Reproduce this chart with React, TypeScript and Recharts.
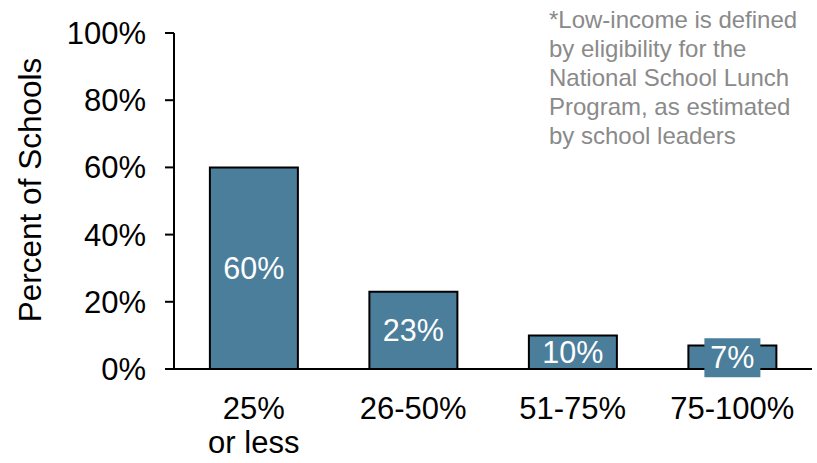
import React from 'react'
import { BarChart, Bar, XAxis, YAxis, LabelList, Label } from 'recharts'

// share of schools by percent of low-income students
const categories = ['25%\nor less', '26-50%', '51-75%', '75-100%']
const shares = [60, 23, 10, 7]
const yTicks = [0, 20, 40, 60, 80, 100]
const note = [
  '*Low-income is defined',
  'by eligibility for the',
  'National School Lunch',
  'Program, as estimated',
  'by school leaders',
]

const data = categories.map((c, i) => ({ cat: c, share: shares[i] }))

const FONT = '"Liberation Sans", Arial, sans-serif'
const BAR = '#4b7e9b'

const CatTick = (props: any) => {
  const { x, y, payload } = props
  const lines = String(payload.value).split('\n')
  return (
    <text x={x} y={y} textAnchor="middle" fontFamily={FONT} fontSize={31} fill="#000">
      {lines.map((l, i) => (
        <tspan key={i} x={x} dy={i === 0 ? 42 : 34}>{l}</tspan>
      ))}
    </text>
  )
}

// value label centred in the bar; short bars get a patch behind the text
const ValueLabel = (props: any) => {
  const { x, y, width, height, value } = props
  const cx = x + width / 2
  const cy = y + height / 2
  return (
    <g>
      {height < 30 && (
        <rect x={cx - 28} y={cy - 19} width={56} height={39} fill={BAR} />
      )}
      <text x={cx} y={cy} dy={11} textAnchor="middle" fontFamily={FONT} fontSize={30.5} fill="#fff">
        {`${value}%`}
      </text>
    </g>
  )
}

export default function App() {
  return (
    <div style={{ position: 'absolute', left: 0, top: 0, width: 817, height: 463, background: '#fff' }}>
      <BarChart
        width={817}
        height={463}
        data={data}
        margin={{ top: 33, right: 5, bottom: 14, left: 0 }}
        barCategoryGap="22.5%"
      >
        <XAxis
          dataKey="cat"
          tick={<CatTick />}
          tickLine={false}
          axisLine={{ stroke: '#000', strokeWidth: 2 }}
          height={80}
          interval={0}
        />
        <YAxis
          domain={[0, 100]}
          ticks={yTicks}
          tickFormatter={(v: number) => `${v}%`}
          width={174}
          tickSize={9}
          tickMargin={19}
          tick={{ fontSize: 31, fill: '#000', fontFamily: FONT }}
          tickLine={{ stroke: '#000', strokeWidth: 2 }}
          axisLine={{ stroke: '#000', strokeWidth: 2 }}
        >
          <Label
            value="Percent of Schools"
            angle={-90}
            position="insideLeft"
            offset={30}
            dy={-11}
            style={{ fontSize: 31.5, fill: '#000', fontFamily: FONT, textAnchor: 'middle' }}
          />
        </YAxis>
        <Bar dataKey="share" fill={BAR} stroke="#000" strokeWidth={2} isAnimationActive={false}>
          <LabelList dataKey="share" content={<ValueLabel />} />
        </Bar>
      </BarChart>
      <div
        style={{
          position: 'absolute',
          left: 549,
          top: 5,
          fontFamily: FONT,
          fontSize: 24,
          lineHeight: '29px',
          color: '#8a8a8a',
          whiteSpace: 'nowrap',
        }}
      >
        {note.map((l, i) => (
          <div key={i}>{l}</div>
        ))}
      </div>
    </div>
  )
}
